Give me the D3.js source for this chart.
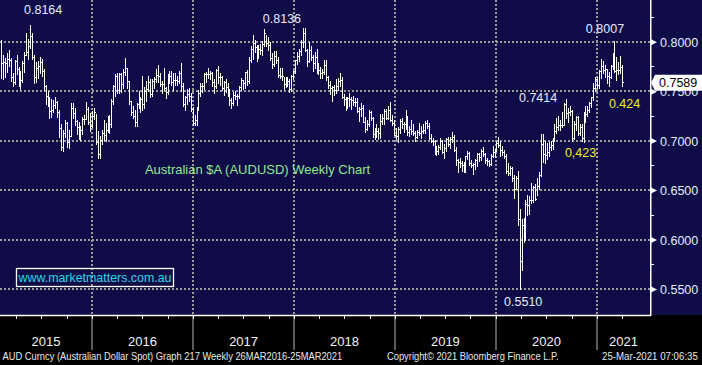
<!DOCTYPE html>
<html><head><meta charset="utf-8">
<script src="https://cdn.jsdelivr.net/npm/d3@7"></script>
<style>body{margin:0;background:#000}svg{display:block}text{font-family:"Liberation Sans",Arial,sans-serif}</style>
</head><body><svg id="c" width="702" height="365"></svg>
<script>
// ---- DATA (weekly AUDUSD bars, first week ending 2015-01-30) ----
const startDate = "2015-01-30";
const high = [
// 2015
.8010,.7860,.7830,.7880,.7910,.7830,.7680,.7810,.7860,.7740,.7700,.7800,.7890,.8080,.8020,.8164,.8080,.7860,.7790,.7800,.7840,.7820,.7720,.7560,.7500,.7440,.7420,.7410,.7440,.7400,.7300,.7160,.7100,.7200,.7180,.7100,.7380,.7380,.7320,.7200,.7180,.7140,.7230,.7250,.7390,.7330,.7270,.7290,
// 2016
.7320,.7260,.7090,.7040,.7100,.7200,.7170,.7240,.7250,.7420,.7560,.7670,.7680,.7680,.7680,.7720,.7835,.7730,.7600,.7400,.7340,.7300,.7380,.7500,.7440,.7650,.7540,.7600,.7650,.7620,.7620,.7640,.7720,.7760,.7680,.7600,.7730,.7540,.7670,.7700,.7700,.7680,.7680,.7650,.7700,.7780,.7580,.7450,.7520,.7530,.7480,.7330,.7250,
// 2017
.7330,.7510,.7580,.7580,.7680,.7690,.7730,.7700,.7690,.7620,.7720,.7750,.7680,.7650,.7600,.7620,.7580,.7520,.7430,.7490,.7500,.7470,.7550,.7630,.7610,.7690,.7710,.7840,.7950,.8066,.8010,.7960,.7960,.7970,.8000,.8125,.8060,.8040,.7990,.7880,.7900,.7900,.7840,.7730,.7730,.7640,.7640,.7640,.7620,.7660,.7710,.7810,
// 2018
.7890,.7920,.8010,.8136,.8130,.7920,.7990,.7950,.7860,.7890,.7920,.7780,.7740,.7720,.7810,.7810,.7650,.7600,.7550,.7560,.7620,.7630,.7680,.7640,.7470,.7440,.7440,.7480,.7440,.7450,.7430,.7430,.7330,.7380,.7360,.7230,.7200,.7300,.7290,.7230,.7120,.7160,.7120,.7260,.7260,.7310,.7310,.7340,.7390,.7250,.7200,.7120,
// 2019
.7130,.7210,.7220,.7180,.7300,.7240,.7140,.7200,.7160,.7090,.7100,.7170,.7140,.7160,.7190,.7200,.7170,.7060,.7020,.7000,.6940,.6950,.7020,.7000,.6960,.7020,.7030,.7030,.7080,.7050,.6930,.6810,.6820,.6790,.6780,.6840,.6890,.6880,.6800,.6770,.6810,.6870,.6870,.6910,.6930,.6870,.6820,.6800,.6860,.6940,.6910,.6990,
// 2020
.7032,.6990,.6940,.6900,.6860,.6770,.6740,.6730,.6650,.6640,.6690,.6300,.6200,.6210,.6390,.6450,.6440,.6570,.6540,.6560,.6620,.6680,.7060,.7060,.6990,.6970,.6980,.6990,.7020,.7160,.7220,.7240,.7200,.7280,.7380,.7414,.7320,.7340,.7300,.7190,.7240,.7240,.7160,.7160,.7280,.7340,.7340,.7390,.7440,.7580,.7640,.7640,
// 2021
.7710,.7820,.7800,.7760,.7720,.7690,.7760,.7880,.8007,.7840,.7790,.7850,.7760
];
const low = [
// 2015
.7640,.7626,.7650,.7700,.7760,.7610,.7560,.7580,.7680,.7560,.7530,.7600,.7700,.7870,.7830,.7940,.7830,.7590,.7600,.7640,.7690,.7660,.7520,.7380,.7350,.7230,.7240,.7290,.7330,.7240,.7044,.6910,.6900,.7040,.6940,.6930,.7050,.7230,.7160,.7070,.7020,.7010,.7070,.7170,.7220,.7170,.7100,.7140,
// 2016
.7220,.6970,.6827,.6830,.6970,.7010,.7000,.7090,.7080,.7140,.7380,.7460,.7490,.7490,.7500,.7540,.7670,.7540,.7380,.7260,.7230,.7150,.7150,.7330,.7290,.7310,.7330,.7410,.7510,.7450,.7460,.7540,.7600,.7600,.7560,.7490,.7520,.7440,.7480,.7590,.7570,.7520,.7570,.7570,.7590,.7510,.7350,.7310,.7380,.7410,.7300,.7160,.7160,
// 2017
.7160,.7310,.7460,.7500,.7530,.7600,.7640,.7630,.7560,.7490,.7540,.7590,.7570,.7520,.7470,.7500,.7460,.7370,.7330,.7370,.7430,.7370,.7440,.7520,.7530,.7540,.7570,.7590,.7800,.7830,.7900,.7810,.7840,.7880,.7870,.7960,.7960,.7920,.7820,.7740,.7760,.7790,.7650,.7640,.7620,.7530,.7550,.7560,.7500,.7510,.7630,.7690,
// 2018
.7780,.7810,.7870,.7950,.7910,.7760,.7800,.7820,.7710,.7740,.7690,.7680,.7640,.7640,.7680,.7620,.7540,.7480,.7410,.7470,.7490,.7520,.7560,.7440,.7370,.7310,.7330,.7360,.7320,.7370,.7360,.7290,.7200,.7250,.7190,.7090,.7110,.7150,.7210,.7040,.7020,.7040,.7020,.7030,.7170,.7170,.7220,.7220,.7200,.7160,.7060,.7020,
// 2019
.6990,.7080,.7130,.7090,.7120,.7060,.7050,.7070,.7060,.7000,.7030,.7060,.7030,.7080,.7080,.7130,.7020,.6990,.6960,.6870,.6860,.6870,.6920,.6880,.6830,.6900,.6950,.6930,.6990,.6900,.6760,.6690,.6740,.6700,.6690,.6690,.6820,.6760,.6740,.6670,.6720,.6750,.6800,.6810,.6850,.6780,.6760,.6750,.6760,.6840,.6840,.6900,
// 2020
.6940,.6850,.6860,.6830,.6680,.6660,.6660,.6600,.6430,.6520,.6150,.5510,.5700,.5980,.6000,.6250,.6260,.6370,.6380,.6400,.6460,.6520,.6650,.6790,.6780,.6820,.6850,.6910,.6920,.7000,.7080,.7110,.7110,.7140,.7160,.7230,.7190,.7260,.7006,.7020,.7110,.7060,.7060,.7000,.6991,.7190,.7250,.7290,.7340,.7420,.7510,.7540,
// 2021
.7540,.7640,.7690,.7650,.7590,.7560,.7640,.7730,.7700,.7620,.7680,.7690,.7560
];
const close = [
// 2015
.7780,.7790,.7780,.7830,.7810,.7640,.7590,.7800,.7720,.7640,.7610,.7780,.7870,.7900,.7960,.8060,.7850,.7640,.7730,.7750,.7790,.7700,.7550,.7450,.7390,.7300,.7310,.7360,.7390,.7290,.7130,.6940,.7080,.7180,.6990,.7050,.7330,.7280,.7200,.7140,.7050,.7110,.7220,.7220,.7320,.7190,.7150,.7250,
// 2016
.7290,.6990,.6860,.7010,.7080,.7060,.7110,.7140,.7170,.7400,.7550,.7650,.7510,.7670,.7570,.7690,.7730,.7600,.7400,.7290,.7250,.7190,.7370,.7380,.7420,.7370,.7500,.7520,.7590,.7470,.7600,.7620,.7660,.7650,.7570,.7570,.7530,.7490,.7660,.7650,.7590,.7610,.7610,.7600,.7680,.7550,.7370,.7440,.7470,.7450,.7320,.7180,.7210,
// 2017
.7310,.7480,.7550,.7550,.7670,.7670,.7670,.7680,.7590,.7550,.7710,.7640,.7640,.7530,.7590,.7540,.7480,.7410,.7380,.7460,.7450,.7450,.7540,.7610,.7580,.7690,.7600,.7810,.7930,.7990,.7950,.7870,.7930,.7920,.7980,.8090,.7990,.7970,.7840,.7770,.7860,.7820,.7660,.7650,.7650,.7570,.7610,.7600,.7520,.7650,.7700,.7810,
// 2018
.7860,.7910,.8000,.8090,.7920,.7800,.7920,.7850,.7780,.7850,.7700,.7710,.7680,.7690,.7760,.7640,.7560,.7530,.7540,.7510,.7550,.7600,.7610,.7440,.7420,.7400,.7430,.7420,.7410,.7390,.7390,.7300,.7320,.7330,.7190,.7120,.7170,.7290,.7230,.7070,.7130,.7100,.7080,.7200,.7230,.7300,.7230,.7310,.7210,.7180,.7060,.7050,
// 2019
.7120,.7200,.7170,.7170,.7230,.7090,.7120,.7100,.7080,.7040,.7090,.7080,.7100,.7110,.7180,.7150,.7030,.7000,.7000,.6880,.6900,.6940,.7000,.6880,.6930,.7020,.6970,.7020,.7040,.6910,.6800,.6780,.6770,.6750,.6730,.6840,.6870,.6770,.6750,.6760,.6800,.6860,.6830,.6900,.6860,.6800,.6790,.6760,.6840,.6890,.6910,.6980,
// 2020
.6960,.6910,.6880,.6840,.6690,.6670,.6720,.6620,.6510,.6620,.6210,.5780,.6150,.6010,.6360,.6350,.6400,.6400,.6530,.6410,.6540,.6650,.6970,.6860,.6850,.6880,.6940,.6960,.7000,.7100,.7140,.7160,.7160,.7160,.7370,.7280,.7290,.7300,.7030,.7170,.7240,.7080,.7140,.7030,.7270,.7270,.7310,.7380,.7440,.7530,.7620,.7560,
// 2021
.7700,.7750,.7710,.7720,.7650,.7640,.7750,.7860,.7700,.7710,.7710,.7740,.7589
];
const years = [2015, 2016, 2017, 2018, 2019, 2020, 2021];
const yTicks = [0.55, 0.60, 0.65, 0.70, 0.75, 0.80];
const yMinorTicks = [0.575, 0.625, 0.675, 0.725, 0.775, 0.825];
const lastPrice = 0.7589;
const peakLabels = ["0.8164", "0.8136", "0.8007", "0.7414", "0.5510"];
const peakDates = ["2015-05-15", "2018-01-26", "2021-02-26", "2020-09-04", "2020-03-20"];
const peakValues = [0.8164, 0.8136, 0.8007, 0.7414, 0.5510];
const noteLabels = ["0,423", "0.424"];
const noteDates = ["2020-11-06", "2021-03-26"];
const noteValues = [0.6991, 0.7560];
const title = "Australian $A (AUDUSD) Weekly Chart";
const website = "www.marketmatters.com.au";
const footerTexts = ["AUD Curncy (Australian Dollar Spot) Graph 217  Weekly 26MAR2016-25MAR2021",
                     "Copyright\u00A9 2021 Bloomberg Finance L.P.",
                     "25-Mar-2021 07:06:35"];

// ---- LAYOUT ----
const W = 702, H = 365, plotBottom = 315, axisX = 650;
const navy = "#100c48";
const svg = d3.select("#c");
svg.append("rect").attr("width", W).attr("height", H).attr("fill", "#000");
svg.append("rect").attr("x", 0).attr("y", 0).attr("width", W).attr("height", plotBottom).attr("fill", navy);

const utc = s => new Date(s + "T00:00:00Z");
const x = d3.scaleUtc().domain([utc("2016-01-01"), utc("2021-01-01")]).range([92, 597]);
const y = d3.scaleLinear().domain([0.55, 0.80]).range([289, 41.7]);
const barShift = 2;
const t0 = utc(startDate);
const data = close.map((c, i) => ({ date: d3.utcDay.offset(t0, i * 7), h: high[i], l: low[i], c }));

// gridlines
const grid = svg.append("g").attr("stroke", "#9c9c9c").attr("stroke-width", 2).attr("stroke-dasharray", "2,2").attr("shape-rendering", "crispEdges");
grid.selectAll(".hg").data(yTicks).join("line")
  .attr("x1", 0).attr("x2", axisX).attr("y1", d => Math.round(y(d))).attr("y2", d => Math.round(y(d)));
const yearBounds = years.slice(1).map(yr => utc(yr + "-01-01"));
grid.selectAll(".vg").data(yearBounds).join("line")
  .attr("x1", d => Math.round(x(d))).attr("x2", d => Math.round(x(d))).attr("y1", 0).attr("y2", plotBottom);
// solid separators below axis
svg.append("g").attr("stroke", "#7a7a7a").attr("stroke-width", 1.5).selectAll("line").data(yearBounds).join("line")
  .attr("x1", d => Math.round(x(d))).attr("x2", d => Math.round(x(d))).attr("y1", plotBottom + 1).attr("y2", 350);

// bars
const bars = svg.append("g").attr("stroke", "#fff").attr("stroke-width", 1).attr("shape-rendering", "crispEdges");
const bx = d => Math.round(x(d.date) + barShift) + 0.5;
bars.selectAll(".v").data(data).join("line")
  .attr("x1", bx).attr("x2", bx).attr("y1", d => Math.floor(y(d.h))).attr("y2", d => Math.ceil(y(d.l)) + 1);
bars.selectAll(".t").data(data).join("line")
  .attr("x1", bx).attr("x2", d => bx(d) + 1.5)
  .attr("y1", d => Math.round(y(d.c)) + 0.5).attr("y2", d => Math.round(y(d.c)) + 0.5);

// x axis
svg.append("line").attr("x1", 0).attr("x2", axisX + 1).attr("y1", plotBottom + 0.5).attr("y2", plotBottom + 0.5)
  .attr("stroke", "#fff").attr("stroke-width", 1.6);
const quarters = d3.utcMonth.every(3).range(utc("2015-01-01"), utc("2021-06-01")).filter(d => x(d) > 0 && x(d) < axisX);
svg.append("g").attr("stroke", "#fff").attr("stroke-width", 1).attr("shape-rendering", "crispEdges")
  .selectAll("line").data(quarters).join("line")
  .attr("x1", d => Math.round(x(d)) + 0.5).attr("x2", d => Math.round(x(d)) + 0.5).attr("y1", plotBottom).attr("y2", plotBottom + 4);
svg.selectAll(".yr").data(years).join("text")
  .attr("x", yr => {
    const a = Math.max(0, x(utc(yr + "-01-01"))), b = Math.min(axisX, x(utc((yr + 1) + "-01-01")));
    return (a + b) / 2;
  })
  .attr("y", 346).attr("text-anchor", "middle").attr("fill", "#f4f4f4").attr("font-size", 13).text(d => d);

// right axis
svg.append("line").attr("x1", axisX + 0.75).attr("x2", axisX + 0.75).attr("y1", 0).attr("y2", plotBottom + 1)
  .attr("stroke", "#fff").attr("stroke-width", 1.5);
svg.append("g").attr("stroke", "#fff").attr("stroke-width", 1).attr("shape-rendering", "crispEdges")
  .selectAll("line").data(yMinorTicks).join("line")
  .attr("x1", axisX).attr("x2", axisX + 4).attr("y1", d => Math.round(y(d)) + 0.5).attr("y2", d => Math.round(y(d)) + 0.5);
svg.append("g").selectAll("path").data(yTicks).join("path")
  .attr("d", d => { const yy = y(d) + 0.5; return `M${axisX + 1},${yy - 3}L${axisX + 7},${yy}L${axisX + 1},${yy + 3}Z`; })
  .attr("fill", "#fff");
svg.append("g").selectAll("text").data(yTicks).join("text")
  .attr("x", axisX + 10).attr("y", d => y(d) + 5).attr("fill", "#e4ecff").attr("font-size", 12.5)
  .text(d => d.toFixed(4));

// last price box (drawn over the 0.7500 label, as in the reference)
const ly = y(lastPrice) + 0.5;
svg.append("path")
  .attr("d", `M${axisX + 1},${ly}L${axisX + 5},${ly - 8}L${W},${ly - 8}L${W},${ly + 8}L${axisX + 5},${ly + 8}Z`)
  .attr("fill", "#fff");
svg.append("text").attr("x", axisX + 9).attr("y", ly + 4.5).attr("fill", "#000").attr("font-size", 12.5).text(lastPrice.toFixed(4));

// peak labels
const peakOffsets = [[13, -11.5], [-21, -5.3], [-9.5, -8], [-28, 2.3], [3.5, 17.7]];
svg.append("g").selectAll("text").data(peakLabels).join("text")
  .attr("x", (d, i) => x(utc(peakDates[i])) + barShift + peakOffsets[i][0])
  .attr("y", (d, i) => y(peakValues[i]) + peakOffsets[i][1])
  .attr("text-anchor", "middle").attr("fill", "#e4ecff").attr("font-size", 12.5).text(d => d);
const noteOffsets = [[-3, 15.5], [2.3, 23]];
svg.append("g").selectAll("text").data(noteLabels).join("text")
  .attr("x", (d, i) => x(utc(noteDates[i])) + barShift + noteOffsets[i][0])
  .attr("y", (d, i) => y(noteValues[i]) + noteOffsets[i][1])
  .attr("text-anchor", "middle").attr("fill", "#f0f020").attr("font-size", 12.5).text(d => d);

// title and website
svg.append("text").attr("x", 257.5).attr("y", 174).attr("text-anchor", "middle")
  .attr("fill", "#90e890").attr("font-size", 13).text(title);
svg.append("rect").attr("x", 16.5).attr("y", 268.5).attr("width", 157).attr("height", 18)
  .attr("fill", "none").attr("stroke", "#fff").attr("stroke-width", 1.3);
svg.append("text").attr("x", 18.5).attr("y", 282).attr("fill", "#2ed6e6").attr("font-size", 13)
  .attr("textLength", 153).attr("lengthAdjust", "spacingAndGlyphs").text(website);

// footer: each text squeezed horizontally to the reference width
const footerSpots = [[2.5, 340], [387, 172], [602, 96]];
footerTexts.forEach((t, i) => {
  const [fx, fw] = footerSpots[i];
  const g = svg.append("g");
  const tn = g.append("text").attr("x", 0).attr("y", 0).attr("fill", "#e8e8e8").attr("font-size", 10.5).text(t);
  const w = tn.node().getComputedTextLength();
  g.attr("transform", `translate(${fx},360) scale(${fw / w},1)`);
});
</script>
</body></html>
